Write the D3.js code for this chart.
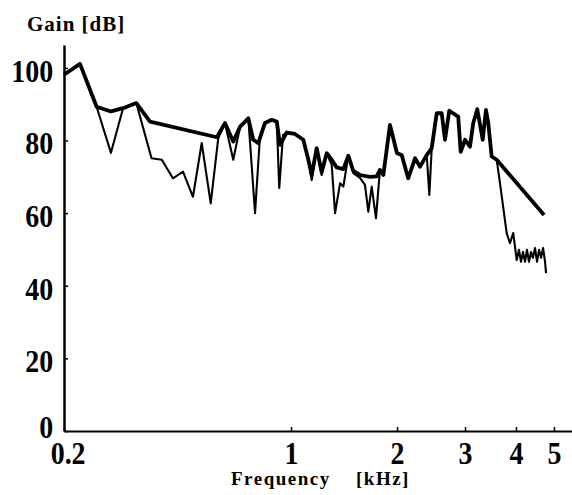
<!DOCTYPE html>
<meta charset="utf-8">
<style>
    body { margin: 0; background: #fff; }
    .tick text { font-family: "Liberation Serif", serif; font-weight: bold; font-size: 31px; }
    .title { font-family: "Liberation Serif", serif; font-weight: bold; }
</style>
<script src="https://d3js.org/d3.v7.min.js"></script>
<div id="graph"></div>
<script>
// envelope curve (thick line), frequency in kHz, gain in dB
var envFreq = [0.2, 0.224, 0.252, 0.279, 0.304, 0.334, 0.368, 0.591, 0.626, 0.664, 0.697, 0.739, 0.765, 0.793,
    0.831, 0.872, 0.904, 0.925, 0.970, 1.026, 1.084, 1.120, 1.145, 1.183, 1.222, 1.263, 1.305, 1.348, 1.408,
    1.455, 1.503, 1.570, 1.676, 1.751, 1.789, 1.829, 1.910, 2.0, 2.057, 2.138, 2.227, 2.295, 2.388, 2.460,
    2.534, 2.611, 2.663, 2.731, 2.881, 2.924, 3.0, 3.085, 3.143, 3.215, 3.315, 3.377, 3.421, 3.487, 3.587, 4.716]
var envGain = [98.1, 101.1, 89.3, 88.0, 88.9, 90.3, 85.2, 80.9, 84.8, 79.7, 83.8, 86.1, 80.2, 79.3,
    84.8, 85.7, 85.2, 78.8, 82.2, 81.8, 80.2, 74.7, 70.5, 77.9, 71.3, 76.5, 74.7, 72.6, 72.1,
    75.8, 71.6, 70.5, 70.0, 70.1, 71.9, 70.5, 84.3, 76.5, 76.0, 69.6, 75.1, 72.8, 76.0, 77.9,
    87.5, 87.5, 80.2, 88.2, 86.6, 76.9, 80.2, 78.3, 84.8, 88.6, 80.2, 88.4, 84.8, 75.6, 74.7, 59.5]

// measured curve (thin line)
var measFreq = [0.2, 0.224, 0.252, 0.279, 0.304, 0.334, 0.372, 0.400, 0.433, 0.465, 0.499, 0.531, 0.566, 0.597,
    0.626, 0.664, 0.697, 0.739, 0.775, 0.803, 0.831, 0.872, 0.904, 0.920, 0.945, 0.970, 1.026, 1.084, 1.120,
    1.145, 1.183, 1.222, 1.263, 1.305, 1.334, 1.378, 1.408, 1.455, 1.503, 1.570, 1.622, 1.658, 1.695, 1.743,
    1.789, 1.829, 1.910, 2.0, 2.057, 2.138, 2.227, 2.295, 2.388, 2.425, 2.460, 2.534, 2.611, 2.663, 2.731,
    2.881, 2.924, 3.0, 3.085, 3.143, 3.215, 3.315, 3.377, 3.421, 3.487, 3.587, 3.655, 3.795, 3.866, 3.938,
    4.017, 4.071, 4.119, 4.168, 4.217, 4.266, 4.317, 4.368, 4.419, 4.473, 4.526, 4.580, 4.634, 4.689, 4.744, 4.772]
var measGain = [98.1, 101.1, 89.3, 76.6, 88.9, 90.3, 75.1, 74.7, 69.6, 71.4, 64.5, 79.3, 62.7, 80.6,
    84.8, 74.7, 83.8, 86.1, 60.0, 81.5, 84.8, 85.7, 85.2, 66.9, 81.5, 82.2, 81.8, 80.2, 74.7,
    69.1, 77.9, 70.5, 76.5, 73.3, 60.0, 68.2, 67.3, 75.8, 71.0, 69.7, 67.8, 60.4, 67.3, 58.6,
    71.9, 70.5, 84.3, 76.5, 76.0, 69.6, 75.1, 72.8, 76.0, 65.0, 77.9, 87.5, 87.5, 80.2, 88.2,
    86.6, 76.9, 80.2, 78.3, 84.8, 88.6, 80.2, 88.4, 84.8, 75.6, 74.7, 68.2, 54.5, 51.7, 54.5,
    47.1, 49.9, 46.6, 49.3, 46.6, 49.9, 46.6, 49.3, 47.7, 50.4, 46.6, 49.9, 47.7, 50.4, 46.6, 43.5]

var freqTicks = [0.2, 1, 2, 3, 4, 5]
var gainTicks = [0, 20, 40, 60, 80, 100]

var width = 572, height = 495

var svg = d3.select("#graph")
    .append("svg")
    .attr("width", width)
    .attr("height", height)

// the frequency axis of the original is only roughly logarithmic, so use a piecewise log scale
var x = d3.scaleLog()
    .domain([0.2, 1, 2, 3, 4, 5, 5.6])
    .range([64, 291, 397, 465, 516, 554, 573])

var y = d3.scaleLinear()
    .domain([0, 106.3])
    .range([431, 45])

// x axis
var xAxis = svg.append("g")
    .attr("transform", "translate(0,431)")
    .call(d3.axisBottom(x).tickValues(freqTicks).tickFormat(function (d) { return String(d) })
        .tickSizeInner(-4).tickSizeOuter(0).tickPadding(11))
xAxis.select(".domain").attr("stroke-width", 1.8)
xAxis.selectAll(".tick line").attr("stroke-width", 1.5)
xAxis.selectAll(".tick text")
    .attr("transform", "scale(0.9,1)")
    .attr("dx", function (d) { return d === 0.2 ? 4 : 0 })
    .attr("fill", "#000")

// y axis
var yAxis = svg.append("g")
    .attr("transform", "translate(64,0)")
    .call(d3.axisLeft(y).tickValues(gainTicks).tickFormat(d3.format("d"))
        .tickSizeInner(-4).tickSizeOuter(0).tickPadding(12))
yAxis.select(".domain").attr("stroke-width", 2.5)
yAxis.selectAll(".tick line").attr("stroke-width", 1.5)
yAxis.selectAll(".tick text")
    .attr("transform", "scale(0.9,1)")
    .attr("dy", function (d) { return d === 0 ? "0.2em" : "0.43em" })
    .attr("fill", "#000")

// curves
var line = d3.line()
    .x(function (d) { return x(d[0]) })
    .y(function (d) { return y(d[1]) })

svg.append("path")
    .datum(d3.zip(measFreq, measGain))
    .attr("d", line)
    .attr("fill", "none")
    .attr("stroke", "black")
    .attr("stroke-width", 2.1)
    .attr("stroke-linejoin", "round")

svg.append("path")
    .datum(d3.zip(envFreq, envGain))
    .attr("d", line)
    .attr("fill", "none")
    .attr("stroke", "black")
    .attr("stroke-width", 3.8)
    .attr("stroke-linejoin", "round")

// titles
svg.append("text")
    .attr("class", "title")
    .attr("x", 27)
    .attr("y", 31)
    .attr("font-size", "21px")
    .attr("letter-spacing", "1px")
    .text("Gain [dB]")

svg.append("text")
    .attr("class", "title")
    .attr("x", 231)
    .attr("y", 485)
    .attr("font-size", "19px")
    .attr("letter-spacing", "1.5px")
    .text("Frequency")

svg.append("text")
    .attr("class", "title")
    .attr("x", 356)
    .attr("y", 485)
    .attr("font-size", "19px")
    .attr("letter-spacing", "1.5px")
    .text("[kHz]")
</script>
